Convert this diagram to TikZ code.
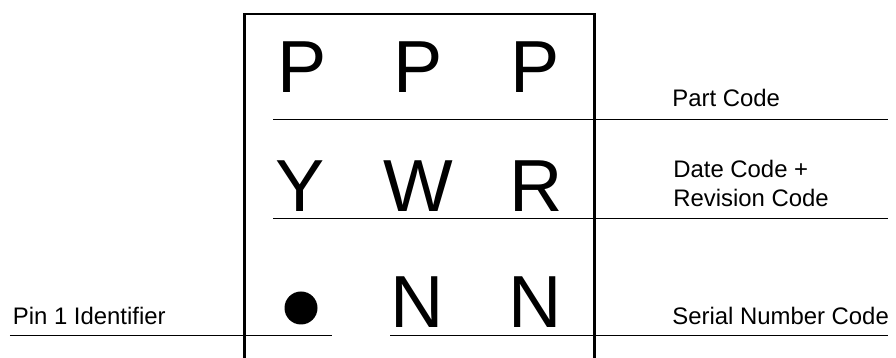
\documentclass[tikz,border=0pt]{standalone}
\usepackage{fontspec}
\setmainfont{Liberation Sans}

\begin{document}
\begin{tikzpicture}[
  bigchar/.style={anchor=base,inner sep=0pt,font=\fontsize{42}{50}\selectfont},
  codetext/.style={anchor=base west,inner sep=0pt,font=\fontsize{13.6}{16.5}\selectfont},
  rule/.style={line width=0.55pt}]
\useasboundingbox (0,0) rectangle (17.92,7.16);
% package outline, open at the bottom
\draw[line width=1.15pt] (4.89,-0.1)--(4.89,6.88)--(11.89,6.88)--(11.89,-0.1);
% marking characters
\node[bigchar] (p1) at (6.04,5.30) {P};
\node[bigchar] (p2) at (8.36,5.30) {P};
\node[bigchar] (p3) at (10.70,5.30) {P};
\node[bigchar] (y) at (6.00,2.92) {Y};
\node[bigchar] (w) at (8.36,2.92) {W};
\node[bigchar] (r) at (10.72,2.92) {R};
\node[circle,fill,inner sep=0pt,minimum size=0.66cm] (dot) at (6.02,1.00) {};
\node[bigchar] (n1) at (8.34,0.60) {N};
\node[bigchar] (n2) at (10.70,0.60) {N};
% rules
\draw[rule] (5.46,4.78)--(17.76,4.78);
\draw[rule] (5.46,2.80)--(17.76,2.80);
\draw[rule] (7.80,0.46)--(17.76,0.46);
\draw[rule] (0.20,0.46)--(6.64,0.46);
% descriptions
\node[codetext] (partcode) at (13.44,5.02) {Part Code};
\node[codetext] (datecode) at (13.46,3.60) {Date Code +};
\node[codetext] (revcode) at (13.46,3.02) {Revision Code};
\node[codetext] (serialcode) at (13.44,0.66) {Serial Number Code};
\node[codetext] (pinid) at (0.25,0.66) {Pin 1 Identifier};
\end{tikzpicture}
\end{document}
